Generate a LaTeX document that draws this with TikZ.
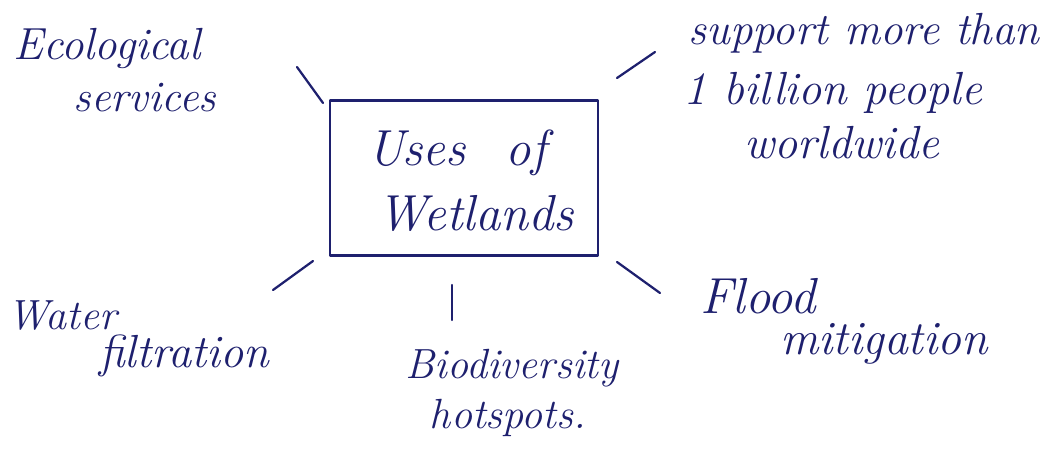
\documentclass[tikz,border=0pt]{standalone}
\definecolor{inkblue}{RGB}{30,32,110}
\begin{document}
\begin{tikzpicture}[x=0.025cm,y=-0.025cm,line cap=round,line join=round,
	ink/.style={text=inkblue,inner sep=0pt,font=\fontsize{#1}{#1}\selectfont\itshape},
	ink/.default=30,
	spoke/.style={draw=inkblue,line width=1.6pt}]
	\useasboundingbox (0,0) rectangle (1064,462);
	% khung giữa
	\node[spoke,minimum width=6.7cm,minimum height=3.875cm] (box) at (464,178) {};
	\node[ink=36] (uses) at (457,153) {Uses\hspace{0.8em}of};
	\node[ink=36] (wet) at (476,213) {Wetlands};
	% các nhánh
	\node[ink=32] (eco1) at (107,48) {Ecological};
	\node[ink=31] (eco2) at (145,98) {services};
	\node[ink=32] (sup1) at (864,33) {support more than};
	\node[ink=33] (sup2) at (833,93) {1 billion people};
	\node[ink=33] (sup3) at (842,143) {worldwide};
	\node[ink] (wat1) at (62,316) {Water};
	\node[ink=33] (wat2) at (184,356) {filtration};
	\node[ink] (bio1) at (512,368) {Biodiversity};
	\node[ink] (bio2) at (508,418) {hotspots.};
	\node[ink=36] (fl1) at (758,296) {Flood};
	\node[ink=34] (fl2) at (884,344) {mitigation};
	% các vạch nối
	\coordinate (tla) at (297,67);  \coordinate (tlb) at (323,103);
	\coordinate (tra) at (617,78);  \coordinate (trb) at (655,52);
	\coordinate (bla) at (273,290); \coordinate (blb) at (313,261);
	\coordinate (bma) at (452,285); \coordinate (bmb) at (452,320);
	\coordinate (bra) at (617,262); \coordinate (brb) at (660,293);
	\draw[spoke] (tla) -- (tlb);
	\draw[spoke] (tra) -- (trb);
	\draw[spoke] (bla) -- (blb);
	\draw[spoke] (bma) -- (bmb);
	\draw[spoke] (bra) -- (brb);
\end{tikzpicture}
\end{document}
